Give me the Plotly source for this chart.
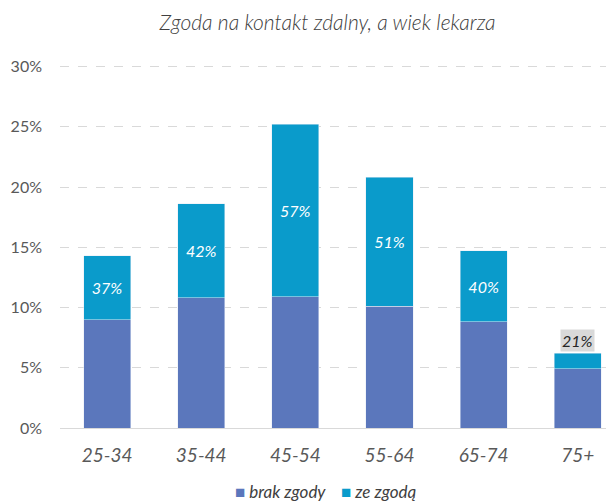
import plotly.graph_objects as go

categories = ["25-34", "35-44", "45-54", "55-64", "65-74", "75+"]
brak_zgody = [9.0, 10.8, 10.9, 10.1, 8.8, 4.9]
ze_zgoda = [5.3, 7.8, 14.3, 10.7, 5.9, 1.3]
share_labels = ["37%", "42%", "57%", "51%", "40%", "21%"]
y_ticks = [0, 5, 10, 15, 20, 25, 30]
y_tick_labels = ["0%", "5%", "10%", "15%", "20%", "25%", "30%"]
series_names = ["brak zgody", "ze zgodą"]

FONT = "Lato, 'Open Sans', sans-serif"
C1 = "#5B77BC"
C2 = "#0A9BCB"

inside_text = [t if i < len(categories) - 1 else "" for i, t in enumerate(share_labels)]

fig = go.Figure()
fig.add_trace(go.Bar(x=categories, y=brak_zgody, name=series_names[0], marker_color=C1,
                     width=0.5, hoverinfo="skip"))
fig.add_trace(go.Bar(x=categories, y=ze_zgoda, name=series_names[1], marker_color=C2,
                     width=0.5, text=inside_text, textposition="inside",
                     insidetextanchor="middle", constraintext="none",
                     textfont=dict(family=FONT, size=16, color="white", style="italic"),
                     hoverinfo="skip"))

last = len(categories) - 1
fig.add_annotation(x=categories[last], y=brak_zgody[last] + ze_zgoda[last],
                   text=share_labels[last], showarrow=False, yanchor="bottom", yshift=1,
                   font=dict(family=FONT, size=16, color="#262626", style="italic"),
                   bgcolor="#D9D9D9", borderpad=1)

# legend drawn as text line
legend_text = (f"<span style='color:{C1}'>■</span> {series_names[0]}    "
               f"<span style='color:{C2}'>■</span> {series_names[1]}")
fig.add_annotation(xref="paper", yref="paper", x=0.487, y=-0.175, xanchor="center",
                   yanchor="middle", showarrow=False, text=legend_text,
                   font=dict(family=FONT, size=17, color="#404040", style="italic"))

fig.update_layout(
    barmode="stack",
    width=607, height=493,
    paper_bgcolor="white", plot_bgcolor="white",
    margin=dict(l=52, r=9, t=55, b=73, autoexpand=False),
    title=dict(text="Zgoda na kontakt zdalny, a wiek lekarza", x=0.49, xanchor="center",
               y=0.971, yanchor="middle", xref="paper",
               font=dict(family=FONT, size=21, color="#404040", style="italic", weight=300)),
    showlegend=False,
)
fig.update_xaxes(range=[-0.5, 5.3], showgrid=False, showline=True, linecolor="#D9D9D9",
                 linewidth=1, ticks="", ticklabelstandoff=10, automargin=False,
                 tickfont=dict(family=FONT, size=19, color="#595959", style="italic"))
fig.update_yaxes(range=[0, 30.3], tickvals=y_ticks, ticktext=y_tick_labels,
                 showgrid=True, gridcolor="#D9D9D9", griddash="dash", gridwidth=1,
                 zeroline=False, showline=False, ticks="", ticklabelstandoff=17,
                 automargin=False,
                 tickfont=dict(family=FONT, size=16, color="#595959"))

fig.write_html("out.html")
